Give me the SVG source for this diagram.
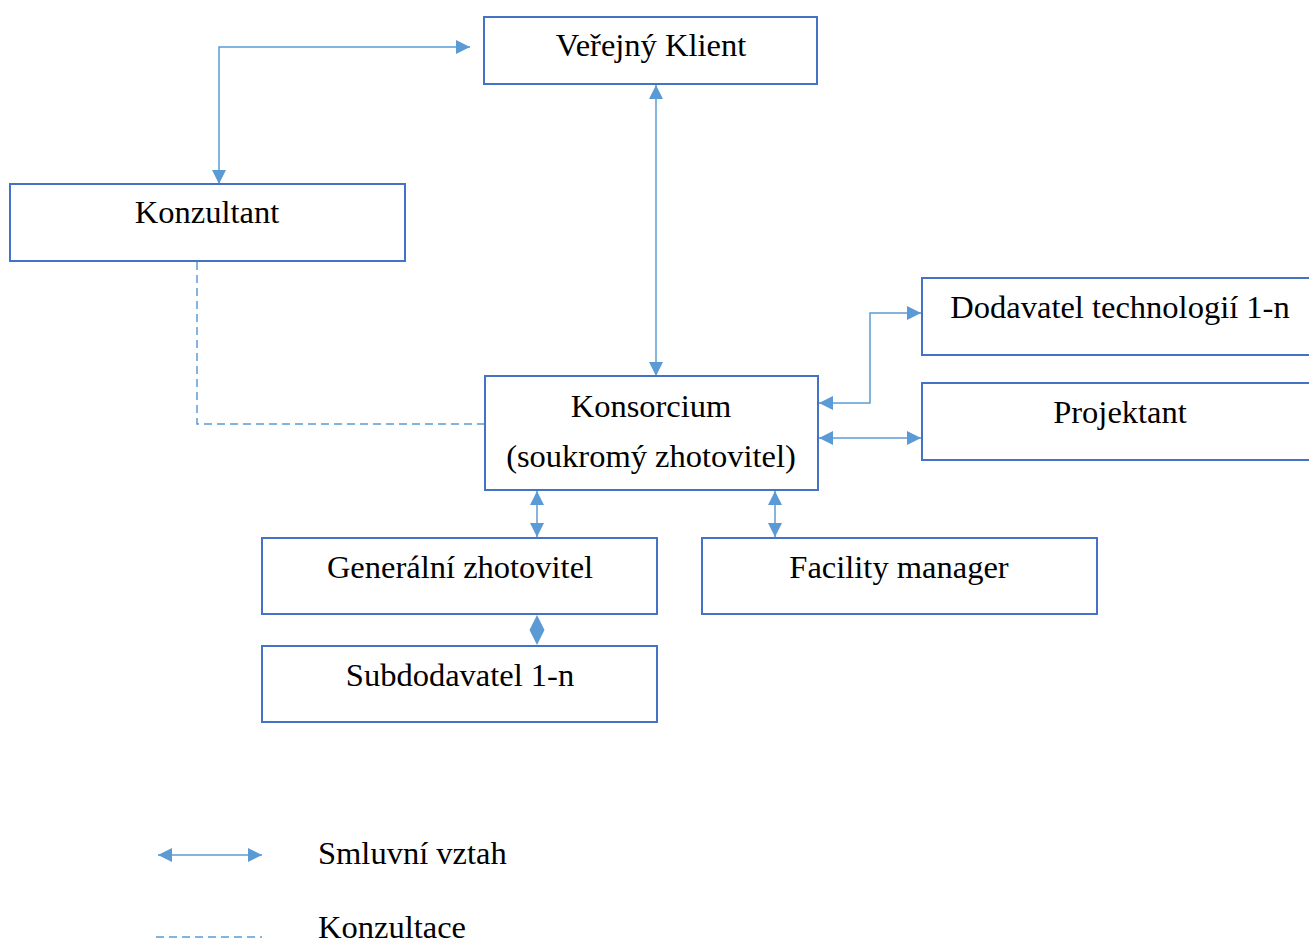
<svg xmlns="http://www.w3.org/2000/svg" width="1309" height="942" viewBox="0 0 1309 942">
  <style>
    .box { fill: #ffffff; stroke: #4472C4; stroke-width: 2; }
    .lbl { font-family: "Liberation Serif", "Times New Roman", serif; font-size: 32.5px; fill: #000000; text-anchor: middle; }
    .leg { font-family: "Liberation Serif", "Times New Roman", serif; font-size: 32.5px; fill: #000000; }
    .link { fill: none; stroke: #5B9BD5; stroke-width: 1.5; }
    .dash { fill: none; stroke: #5B9BD5; stroke-width: 1.5; stroke-dasharray: 8 5; }
    .head { fill: #5B9BD5; }
  </style>
  <defs>
    <marker id="arr" viewBox="0 0 10 10" refX="10" refY="5" markerUnits="userSpaceOnUse" markerWidth="15" markerHeight="14" orient="auto-start-reverse">
      <path d="M0,0 L10,5 L0,10 Z" fill="#5B9BD5"/>
    </marker>
  </defs>

  <rect width="1309" height="942" fill="#ffffff"/>

  <!-- connectors -->
  <g id="connectors">
    <!-- Konzultant <-> Veřejný Klient -->
    <path class="link" d="M219,184 L219,47 L470,47" marker-start="url(#arr)" marker-end="url(#arr)"/>
    <!-- Veřejný Klient <-> Konsorcium -->
    <path class="link" d="M656,85 L656,376" marker-start="url(#arr)" marker-end="url(#arr)"/>
    <!-- Konzultant - Konsorcium (consultation) -->
    <path class="dash" d="M197,262 L197,424 L485,424"/>
    <!-- Konsorcium <-> Dodavatel technologií -->
    <path class="link" d="M819,403 L870,403 L870,313 L921,313" marker-start="url(#arr)" marker-end="url(#arr)"/>
    <!-- Konsorcium <-> Projektant -->
    <path class="link" d="M819,438 L921,438" marker-start="url(#arr)" marker-end="url(#arr)"/>
    <!-- Konsorcium <-> Generální zhotovitel -->
    <path class="link" d="M537,491 L537,537" marker-start="url(#arr)" marker-end="url(#arr)"/>
    <!-- Konsorcium <-> Facility manager -->
    <path class="link" d="M775,491 L775,537" marker-start="url(#arr)" marker-end="url(#arr)"/>
    <!-- Generální zhotovitel <-> Subdodavatel -->
    <polygon class="head" points="537,615 544.5,630 537,645 529.5,630"/>
  </g>

  <g id="verejny-klient">
    <rect class="box" x="484" y="17" width="333" height="67"/>
    <text class="lbl" x="651" y="56">Veřejný Klient</text>
  </g>

  <g id="konzultant">
    <rect class="box" x="10" y="184" width="395" height="77"/>
    <text class="lbl" x="207" y="223">Konzultant</text>
  </g>

  <g id="dodavatel-technologii">
    <rect class="box" x="922" y="278" width="400" height="77"/>
    <text class="lbl" x="1120" y="318">Dodavatel technologií 1-n</text>
  </g>

  <g id="projektant">
    <rect class="box" x="922" y="383" width="400" height="77"/>
    <text class="lbl" x="1120" y="423">Projektant</text>
  </g>

  <g id="konsorcium">
    <rect class="box" x="485" y="376" width="333" height="114"/>
    <text class="lbl" x="651" y="417">Konsorcium</text>
    <text class="lbl" x="651" y="467">(soukromý zhotovitel)</text>
  </g>

  <g id="generalni-zhotovitel">
    <rect class="box" x="262" y="538" width="395" height="76"/>
    <text class="lbl" x="460" y="578">Generální zhotovitel</text>
  </g>

  <g id="facility-manager">
    <rect class="box" x="702" y="538" width="395" height="76"/>
    <text class="lbl" x="899" y="578">Facility manager</text>
  </g>

  <g id="subdodavatel">
    <rect class="box" x="262" y="646" width="395" height="76"/>
    <text class="lbl" x="460" y="686">Subdodavatel 1-n</text>
  </g>

  <!-- legend -->
  <g id="legend">
    <path class="link" d="M158,855 L262,855" marker-start="url(#arr)" marker-end="url(#arr)"/>
    <text class="leg" x="318" y="864">Smluvní vztah</text>
    <path class="dash" d="M156,937 L262,937"/>
    <text class="leg" x="318" y="938">Konzultace</text>
  </g>
</svg>
